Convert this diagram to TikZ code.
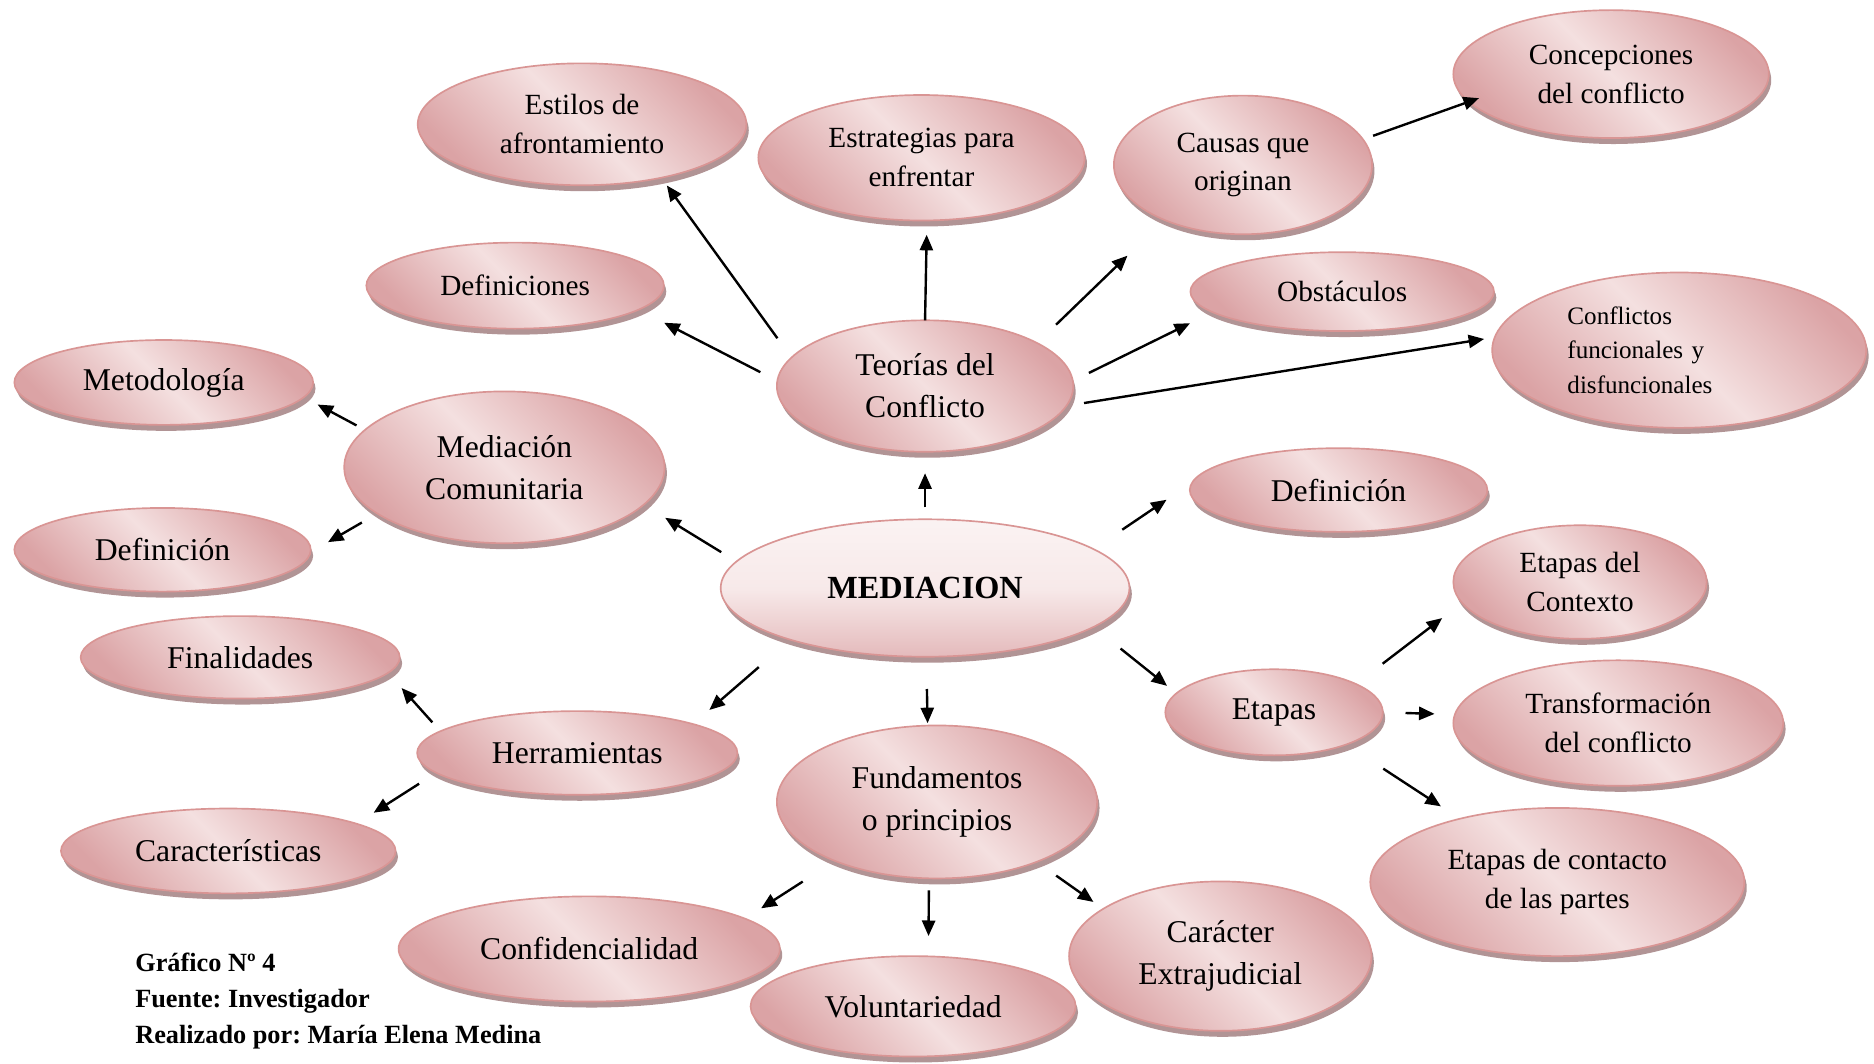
\documentclass[tikz,border=0pt]{standalone}
\usepackage{fontspec}
\setmainfont{Liberation Serif}
\usepackage{tikz}
\usetikzlibrary{arrows.meta, shapes.geometric, shadows}
\frenchspacing

\definecolor{pinkd}{RGB}{219,163,165}
\definecolor{pinkl}{RGB}{244,224,224}
\definecolor{bordc}{RGB}{217,149,148}
\definecolor{shadc}{RGB}{168,136,137}

\tikzset{
  bubble/.style={ellipse, draw=bordc, line width=1.4pt, inner sep=0pt, outer sep=0pt,
    top color=pinkd, bottom color=pinkd, middle color=pinkl, shading angle=-45,
    drop shadow={shadow xshift=2pt, shadow yshift=-5pt, fill=shadc, opacity=0.9},
    align=center, text=black},
  sz/.style 2 args={minimum width=#1pt, minimum height=#2pt},
  big/.style={font=\fontsize{26.5}{35}\selectfont},
  small/.style={font=\fontsize{24.5}{32.5}\selectfont},
  arr/.style={-{Triangle[length=13pt,width=11pt]}, line width=2pt}
}

\begin{document}
\begin{tikzpicture}
	[x=1pt, y=-1pt]
	\useasboundingbox (0,0) rectangle (1568,890);

	\node [bubble, sz={342}{115}, top color=white!60!pinkl, bottom color=pinkd!75!white, middle color=pinkl!70!white, shading angle=0,
	  font=\fontsize{27}{32}\selectfont\bfseries] (med) at (774,492) {MEDIACION};
	\node [bubble, big, sz={248}{110}] (teo) at (774,323) {Teorías del\\Conflicto};
	\node [bubble, small, sz={275}{102}] (est) at (487,104) {Estilos de\\afrontamiento};
	\node [bubble, small, sz={273}{105}] (estr) at (771,132) {Estrategias para\\enfrentar};
	\node [bubble, small, sz={216}{116}] (caus) at (1040,138) {Causas que\\originan};
	\node [bubble, small, sz={264}{107}] (conc) at (1348,62) {Concepciones\\del conflicto};
	\node [bubble, small, sz={249}{72}] (defs) at (431,239) {Definiciones};
	\node [bubble, small, sz={254}{66}] (obs) at (1123,244) {Obstáculos};
	\node [bubble, sz={313}{130}, align=left, text width=187pt,
	  font=\fontsize{21}{29}\selectfont] (conf) at (1405,293) {Conflictos\\funcionales y\\disfuncionales};
	\node [bubble, big, sz={250}{71}] (met) at (137,320) {Metodología};
	\node [bubble, big, sz={268}{127}] (medc) at (422,391) {Mediación\\Comunitaria};
	\node [bubble, big, sz={248}{70}] (defl) at (136,460) {Definición};
	\node [bubble, big, sz={249}{70}] (defr) at (1120,410) {Definición};
	\node [bubble, small, sz={212}{95}] (ctx) at (1322,487) {Etapas del\\Contexto};
	\node [bubble, big, sz={267}{69}] (fin) at (201,550) {Finalidades};
	\node [bubble, big, sz={182}{72}] (eta) at (1066,596) {Etapas};
	\node [bubble, small, sz={276}{105}] (tra) at (1354,605) {Transformación\\del conflicto};
	\node [bubble, big, sz={268}{70}] (her) at (483,630) {Herramientas};
	\node [bubble, big, sz={268}{128}] (fun) at (784,671) {Fundamentos\\o principios};
	\node [bubble, big, sz={280}{71}] (car) at (191,712) {Características};
	\node [bubble, small, sz={313}{124}] (con) at (1303,738) {Etapas de contacto\\de las partes};
	\node [bubble, big, sz={319}{88}] (cfd) at (493,794) {Confidencialidad};
	\node [bubble, big, sz={272}{84}] (vol) at (764,842) {Voluntariedad};
	\node [bubble, big, sz={253}{125}] (cex) at (1021,800) {Carácter\\Extrajudicial};

	\foreach \from/\fa/\to/\ta/\sa/\sb in {teo/168/est/-34/20/8, teo/90/estr/-85/0/12,
	  teo/21/caus/215/22/43, caus/12/conc/191/9/-9, teo/178/defs/-11/16/24,
	  teo/2/obs/189/15/21, teo/-8/conf/176/15/9, med/90/teo/-90/10/18,
	  medc/165/met/-6/8/13, medc/200/defl/-1/15/17, med/172/medc/-15/15/21,
	  med/13/defr/177/29/26, med/-13/eta/169/29/10, eta/19/ctx/190/28/21,
	  eta/0/tra/177/19/17, eta/-24/con/147/37/19, med/201/her/14/35/18,
	  her/171/fin/-6/10/17, her/188/car/12/17/17, med/-89/fun/97/27/2,
	  fun/210/cfd/11/32/16, fun/-96/vol/73/10/17, fun/-31/cex/158/20/10}
	\draw [arr, shorten <=\sa pt, shorten >=\sb pt] (\from.\fa) -- (\to.\ta);

	\node [anchor=north west, align=left, inner sep=0pt, font=\fontsize{22}{30}\selectfont\bfseries]
	  (src) at (113,797) {Gráfico Nº 4\\Fuente: Investigador\\Realizado por: María Elena Medina};
\end{tikzpicture}
\end{document}
